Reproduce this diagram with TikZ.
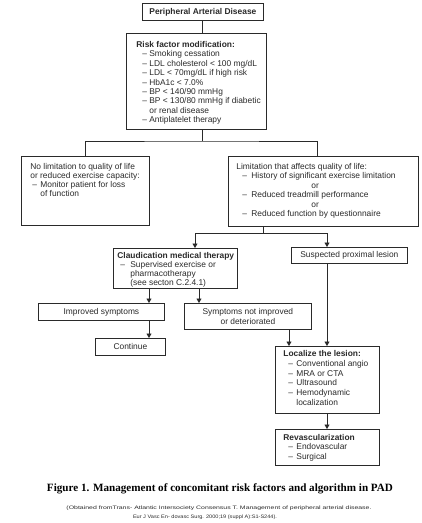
\documentclass[tikz,border=0pt]{standalone}
\usepackage{fontspec}
\usepackage{graphicx}
\setmainfont{Liberation Sans}
\newfontfamily\capfont{Liberation Serif}
\usetikzlibrary{arrows.meta}
% box text: height, width, left pad, first baseline, baselineskip, content
\newcommand\bxt[6]{\begin{minipage}[t][#1][t]{#2}\fontsize{8.4}{#5}\selectfont\raggedright\leftskip=#3\relax\rule{0pt}{#4}#6\end{minipage}}
\newcommand\itm[2]{\hspace*{#1}\makebox[#2][l]{–}}
\definecolor{ink}{HTML}{2A2A2A}
\tikzset{
  box/.style={draw=ink, line width=0.8pt, inner sep=0pt, anchor=north west, text=ink},
  cbox/.style={draw=ink, line width=0.8pt, inner sep=0pt, anchor=north west, text=ink, align=center,
    font=\fontsize{8.4}{9.4}\selectfont},
  ln/.style={draw=ink, line width=0.8pt},
  arr/.style={draw=ink, line width=0.8pt, -{Triangle[length=4.5pt,width=5pt]}},
  src/.style={text=ink, inner sep=0pt, font=\fontsize{5}{6}\selectfont},
}
\begin{document}
\begin{tikzpicture}[x=1pt,y=-1pt]
\useasboundingbox[fill=white] (0,0) rectangle (422,523);

\node[cbox, minimum width=121pt, minimum height=17pt] (pad) at (142,3) {\textbf{Peripheral Arterial Disease}};

\node[box] (rf) at (126,33) {\bxt{96pt}{140pt}{10pt}{14pt}{9.4pt}{%
\textbf{Risk factor modification:}\\
\itm{6pt}{7pt}Smoking cessation\\
\itm{6pt}{7pt}LDL cholesterol < 100 mg/dL\\
\itm{6pt}{7pt}LDL < 70mg/dL if high risk\\
\itm{6pt}{7pt}HbA1c < 7.0\%\\
\itm{6pt}{7pt}BP < 140/90 mmHg\\
\itm{6pt}{7pt}BP < 130/80 mmHg if diabetic\\
\hspace*{13pt}or renal disease\\
\itm{6pt}{7pt}Antiplatelet therapy}};

\node[box] (left) at (21,156) {\bxt{69pt}{128pt}{9pt}{13.5pt}{9pt}{%
No limitation to quality of life\\
or reduced exercise capacity:\\
\itm{2pt}{8pt}Monitor patient for loss\\
\hspace*{10pt}of function}};

\node[box] (right) at (228,156) {\bxt{70pt}{190pt}{8pt}{13pt}{9.4pt}{%
Limitation that affects quality of life:\\
\itm{6pt}{9pt}History of significant exercise limitation\\
\hspace*{75pt}or\\
\itm{6pt}{9pt}Reduced treadmill performance\\
\hspace*{75pt}or\\
\itm{6pt}{9pt}Reduced function by questionnaire}};

\node[box] (claud) at (113,248) {\bxt{40pt}{124pt}{4pt}{10pt}{9pt}{%
\textbf{Claudication medical therapy}\\
\itm{3pt}{10pt}Supervised exercise or\\
\hspace*{13pt}pharmacotherapy\\
\hspace*{13pt}(see secton C.2.4.1)}};

\node[cbox, minimum width=116pt, minimum height=16pt] (susp) at (291,247) {Suspected proximal lesion};

\node[cbox, minimum width=126pt, minimum height=17pt] (improved) at (38,303) {Improved symptoms};

\node[cbox, minimum width=127pt, minimum height=26pt] (notimp) at (184,303) {Symptoms not improved\\or deteriorated};

\node[cbox, minimum width=70pt, minimum height=17pt] (cont) at (95,338) {Continue};

\node[box] (loc) at (275,346) {\bxt{67pt}{104pt}{8pt}{10pt}{9.8pt}{%
\textbf{Localize the lesion:}\\
\itm{5pt}{8pt}Conventional angio\\
\itm{5pt}{8pt}MRA or CTA\\
\itm{5pt}{8pt}Ultrasound\\
\itm{5pt}{8pt}Hemodynamic\\
\hspace*{13pt}localization}};

\node[box] (revasc) at (275,429) {\bxt{36pt}{104pt}{8pt}{11pt}{9.5pt}{%
\textbf{Revascularization}\\
\itm{5pt}{8pt}Endovascular\\
\itm{5pt}{8pt}Surgical}};

% connectors
\coordinate (j1) at (202,141);
\coordinate (xr) at (317,0);
\coordinate (j2) at (263,233);
\coordinate (xc) at (195,0);
\coordinate (xs) at (327,0);
\coordinate (xi) at (149,0);
\coordinate (xn) at (199,0);
\coordinate (xl) at (289,0);

\draw[ln] (pad.south -| j1) -- (rf.north -| j1);
\draw[ln] (rf.south -| j1) -- (j1);
\draw[ln] (left.north) |- (j1) -| (right.north -| xr);
\draw[ln] (right.south -| j2) -- (j2);
\draw[arr] (j2) -| (claud.north -| xc);
\draw[arr] (j2) -| (susp.north -| xs);
\draw[arr] (claud.south -| xi) -- (improved.north -| xi);
\draw[arr] (claud.south -| xn) -- (notimp.north -| xn);
\draw[arr] (improved.south -| xi) -- (cont.north -| xi);
\draw[arr] (notimp.south -| xl) -- (loc.north -| xl);
\draw[arr] (susp.south -| xs) -- (loc.north -| xs);
\draw[arr] (loc.south -| xs) -- (revasc.north -| xs);

% caption
\node (cap) at (220,489) {\resizebox{346pt}{!}{\capfont\bfseries Figure 1. Management of concomitant risk factors and algorithm in PAD}};
\node[src] (src1) at (219,508) {\resizebox{305pt}{3.6pt}{(Obtained fromTrans- Atlantic Intersociety Consensus T. Management of peripheral arterial disease.}};
\node[src] (src2) at (205,517) {\resizebox{144pt}{3.6pt}{Eur J Vasc En- dovasc Surg. 2000;19 (suppl A):S1-S244).}};
\end{tikzpicture}
\end{document}
